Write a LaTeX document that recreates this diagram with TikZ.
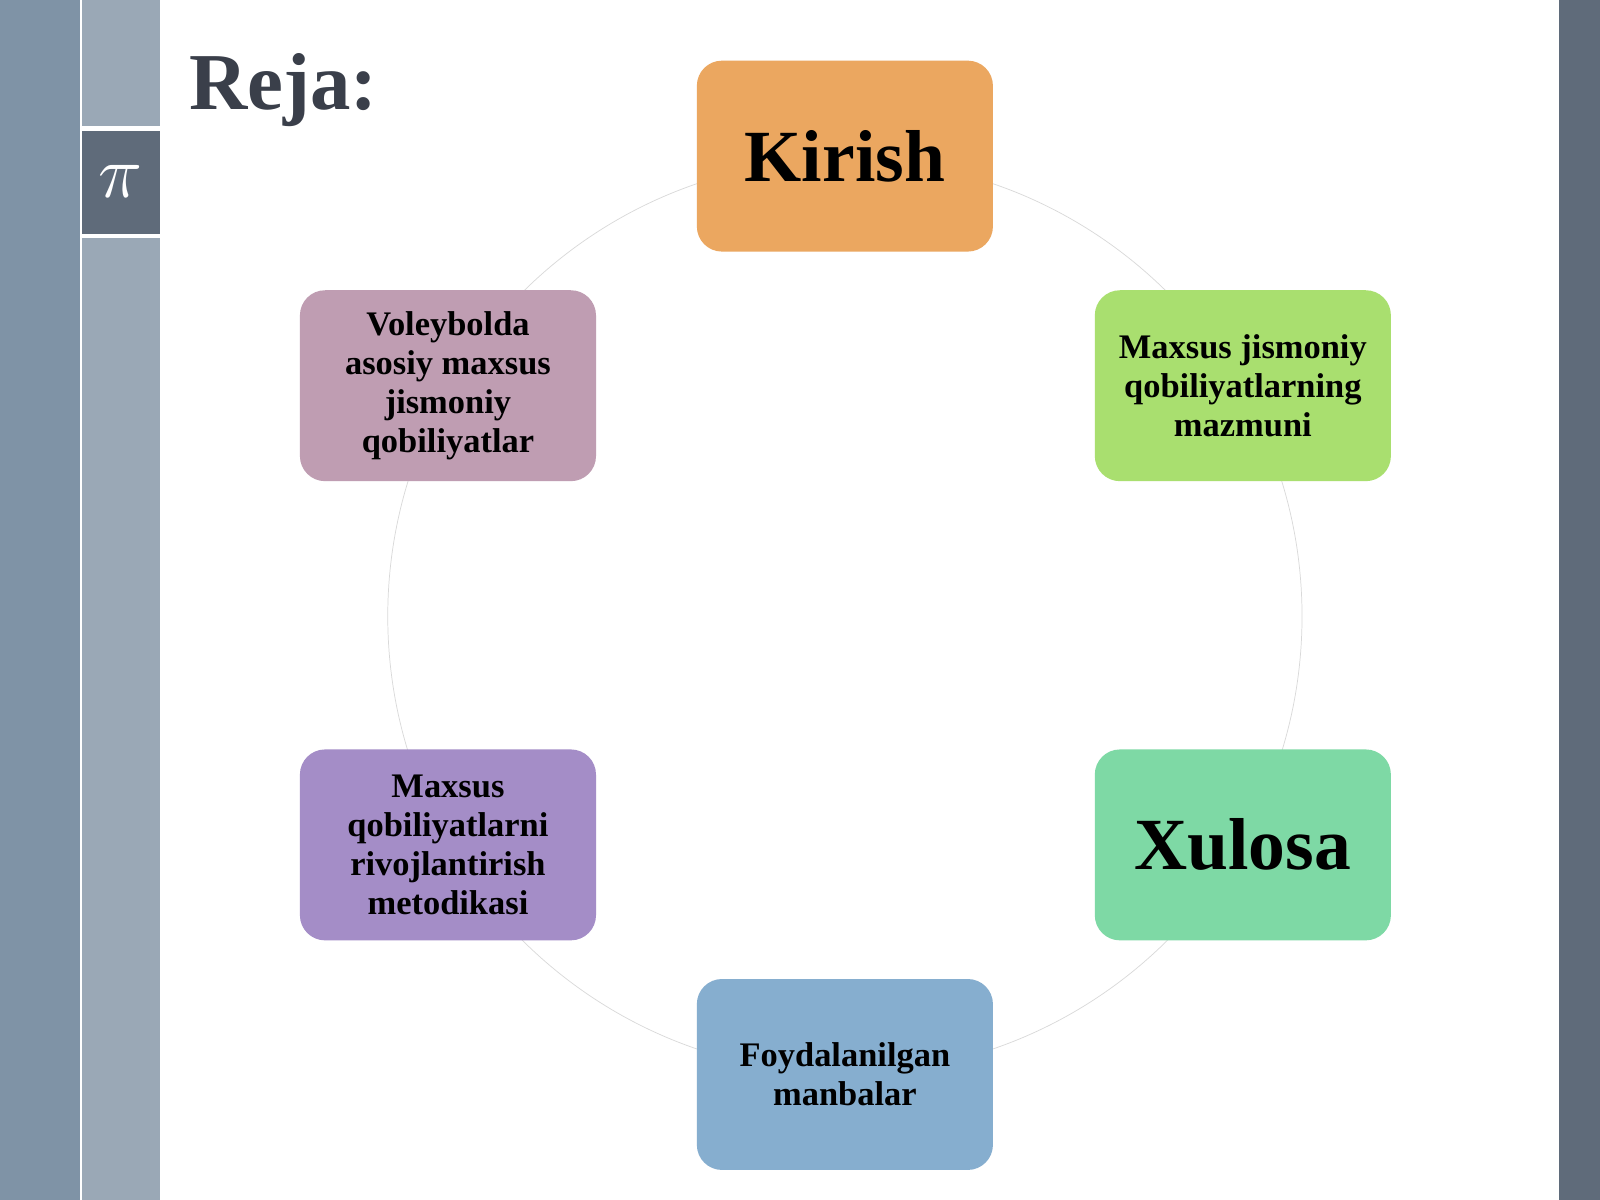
\documentclass[tikz,border=0pt]{standalone}
\usepackage{fontspec}
\setmainfont{Liberation Serif}
\usepackage{amsmath}
\definecolor{stripA}{HTML}{7F93A6}
\definecolor{stripB}{HTML}{9AA8B6}
\definecolor{stripC}{HTML}{5F6B7A}
\definecolor{titlec}{HTML}{3A3F4A}
\definecolor{orangeb}{HTML}{EBA760}
\definecolor{greenb}{HTML}{A9DF6F}
\definecolor{mintb}{HTML}{7ED9A5}
\definecolor{blueb}{HTML}{86AECF}
\definecolor{purpleb}{HTML}{A48DC7}
\definecolor{mauveb}{HTML}{BF9DB2}
\tikzset{
  planbox/.style={rounded corners=7pt, minimum width=2.9cm, minimum height=1.87cm,
    align=center, font=\fontsize{9.6}{10.8}\selectfont\bfseries, inner sep=0pt},
  bigbox/.style={planbox, font=\fontsize{20.5}{24}\selectfont\bfseries}
}
\begin{document}
\begin{tikzpicture}[x=0.01cm, y=-0.01cm]
        \useasboundingbox (0,0) rectangle (1568,1176);
        % Fondo e strisce laterali
        \fill[white] (0,0) rectangle (1568,1176);
        \fill[stripA] (0,0) rectangle (78,1176);
        \fill[stripB] (80,0) rectangle (157,1176);
        \fill[stripC] (80,127) rectangle (157,230);
        \draw[white, line width=1.2pt] (80,126) -- (157,126) (80,231) -- (157,231);
        \fill[stripC] (1528,0) rectangle (1568,1176);
        \node[text=white, font=\fontsize{20}{20}\selectfont] (pi) at (118.5,178) {$\pi$};

        % Titolo
        \node[anchor=west, inner sep=0pt, text=titlec, font=\fontsize{22.5}{22.5}\selectfont\bfseries] (title) at (185,88) {Reja:};

        % Cerchio
        \coordinate (center) at (828,604);
        \draw[gray!30, very thin] (center) circle (448);

        % Caselle
        \node[bigbox, fill=orangeb] (kirish) at (828,153) {Kirish};
        \node[planbox, fill=greenb] (mazmun) at (1218,378) {Maxsus jismoniy\\qobiliyatlarning\\mazmuni};
        \node[bigbox, fill=mintb] (xulosa) at (1218,828) {Xulosa};
        \node[planbox, fill=blueb] (manba) at (828,1053) {Foydalanilgan\\manbalar};
        \node[planbox, fill=purpleb] (metod) at (439,828) {Maxsus\\qobiliyatlarni\\rivojlantirish\\metodikasi};
        \node[planbox, fill=mauveb] (voley) at (439,378) {Voleybolda\\asosiy maxsus\\jismoniy\\qobiliyatlar};
\end{tikzpicture}
\end{document}
